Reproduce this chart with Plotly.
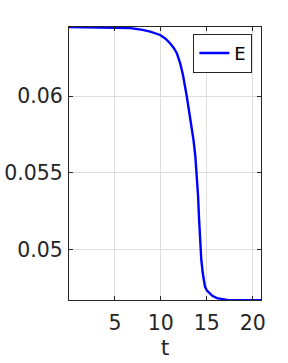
import plotly.graph_objects as go

# Data
t = [0, 3, 5, 6.66, 8, 8.84, 9.93, 10.5, 11.0, 11.4, 11.74, 12.1, 12.4, 12.7, 12.82,
     13.05, 13.29, 13.55, 13.75, 13.9, 14.05, 14.15, 14.27, 14.4, 14.56, 14.8, 15.0,
     15.28, 15.6, 16.1, 16.6, 17.2, 18.5, 20.9]
E = [0.06451, 0.06450, 0.06448, 0.06444, 0.06432, 0.06421, 0.06399, 0.06375, 0.06345,
     0.06315, 0.06280, 0.06215, 0.06140, 0.06050, 0.06000, 0.05910, 0.05820, 0.05716,
     0.05610, 0.05500, 0.05350, 0.05210, 0.05040, 0.04935, 0.04848, 0.04760, 0.04735,
     0.04717, 0.04700, 0.04685, 0.04678, 0.04673, 0.04672, 0.04672]

x_ticks = [5, 10, 15, 20]
y_ticks = [0.05, 0.055, 0.06]
y_tick_labels = ["0.05", "0.055", "0.06"]

fig = go.Figure()
fig.add_trace(go.Scatter(x=t, y=E, mode="lines", name="E",
                         line=dict(color="#0000ff", width=2.4)))

axis_common = dict(showline=True, linecolor="#262626", linewidth=1, mirror="ticks",
                   ticks="inside", ticklen=4, tickcolor="#262626",
                   tickfont=dict(family="DejaVu Sans", size=20.5, color="#262626"),
                   showgrid=True, gridcolor="#dedede", gridwidth=1, zeroline=False)

fig.update_layout(
    width=288, height=363,
    margin=dict(l=69, r=27, t=27, b=63, autoexpand=False),
    plot_bgcolor="white", paper_bgcolor="white",
    font=dict(family="DejaVu Sans", size=20, color="#262626"),
    showlegend=True,
    legend=dict(x=0.955, y=0.975, xanchor="right", yanchor="top",
                bordercolor="#262626", borderwidth=1, bgcolor="white",
                font=dict(family="DejaVu Sans", size=18, color="#000000")),
    xaxis=dict(range=[0, 20.9], tickvals=x_ticks, ticklabelstandoff=4,
               title=dict(text="t", standoff=4, font=dict(size=22)),
               **axis_common),
    yaxis=dict(range=[0.046725, 0.06451], tickvals=y_ticks, ticktext=y_tick_labels,
               ticklabelstandoff=1,
               **axis_common),
)

fig.write_html("out.html", config={"displayModeBar": False},
               post_script="document.body.style.margin='0';")
